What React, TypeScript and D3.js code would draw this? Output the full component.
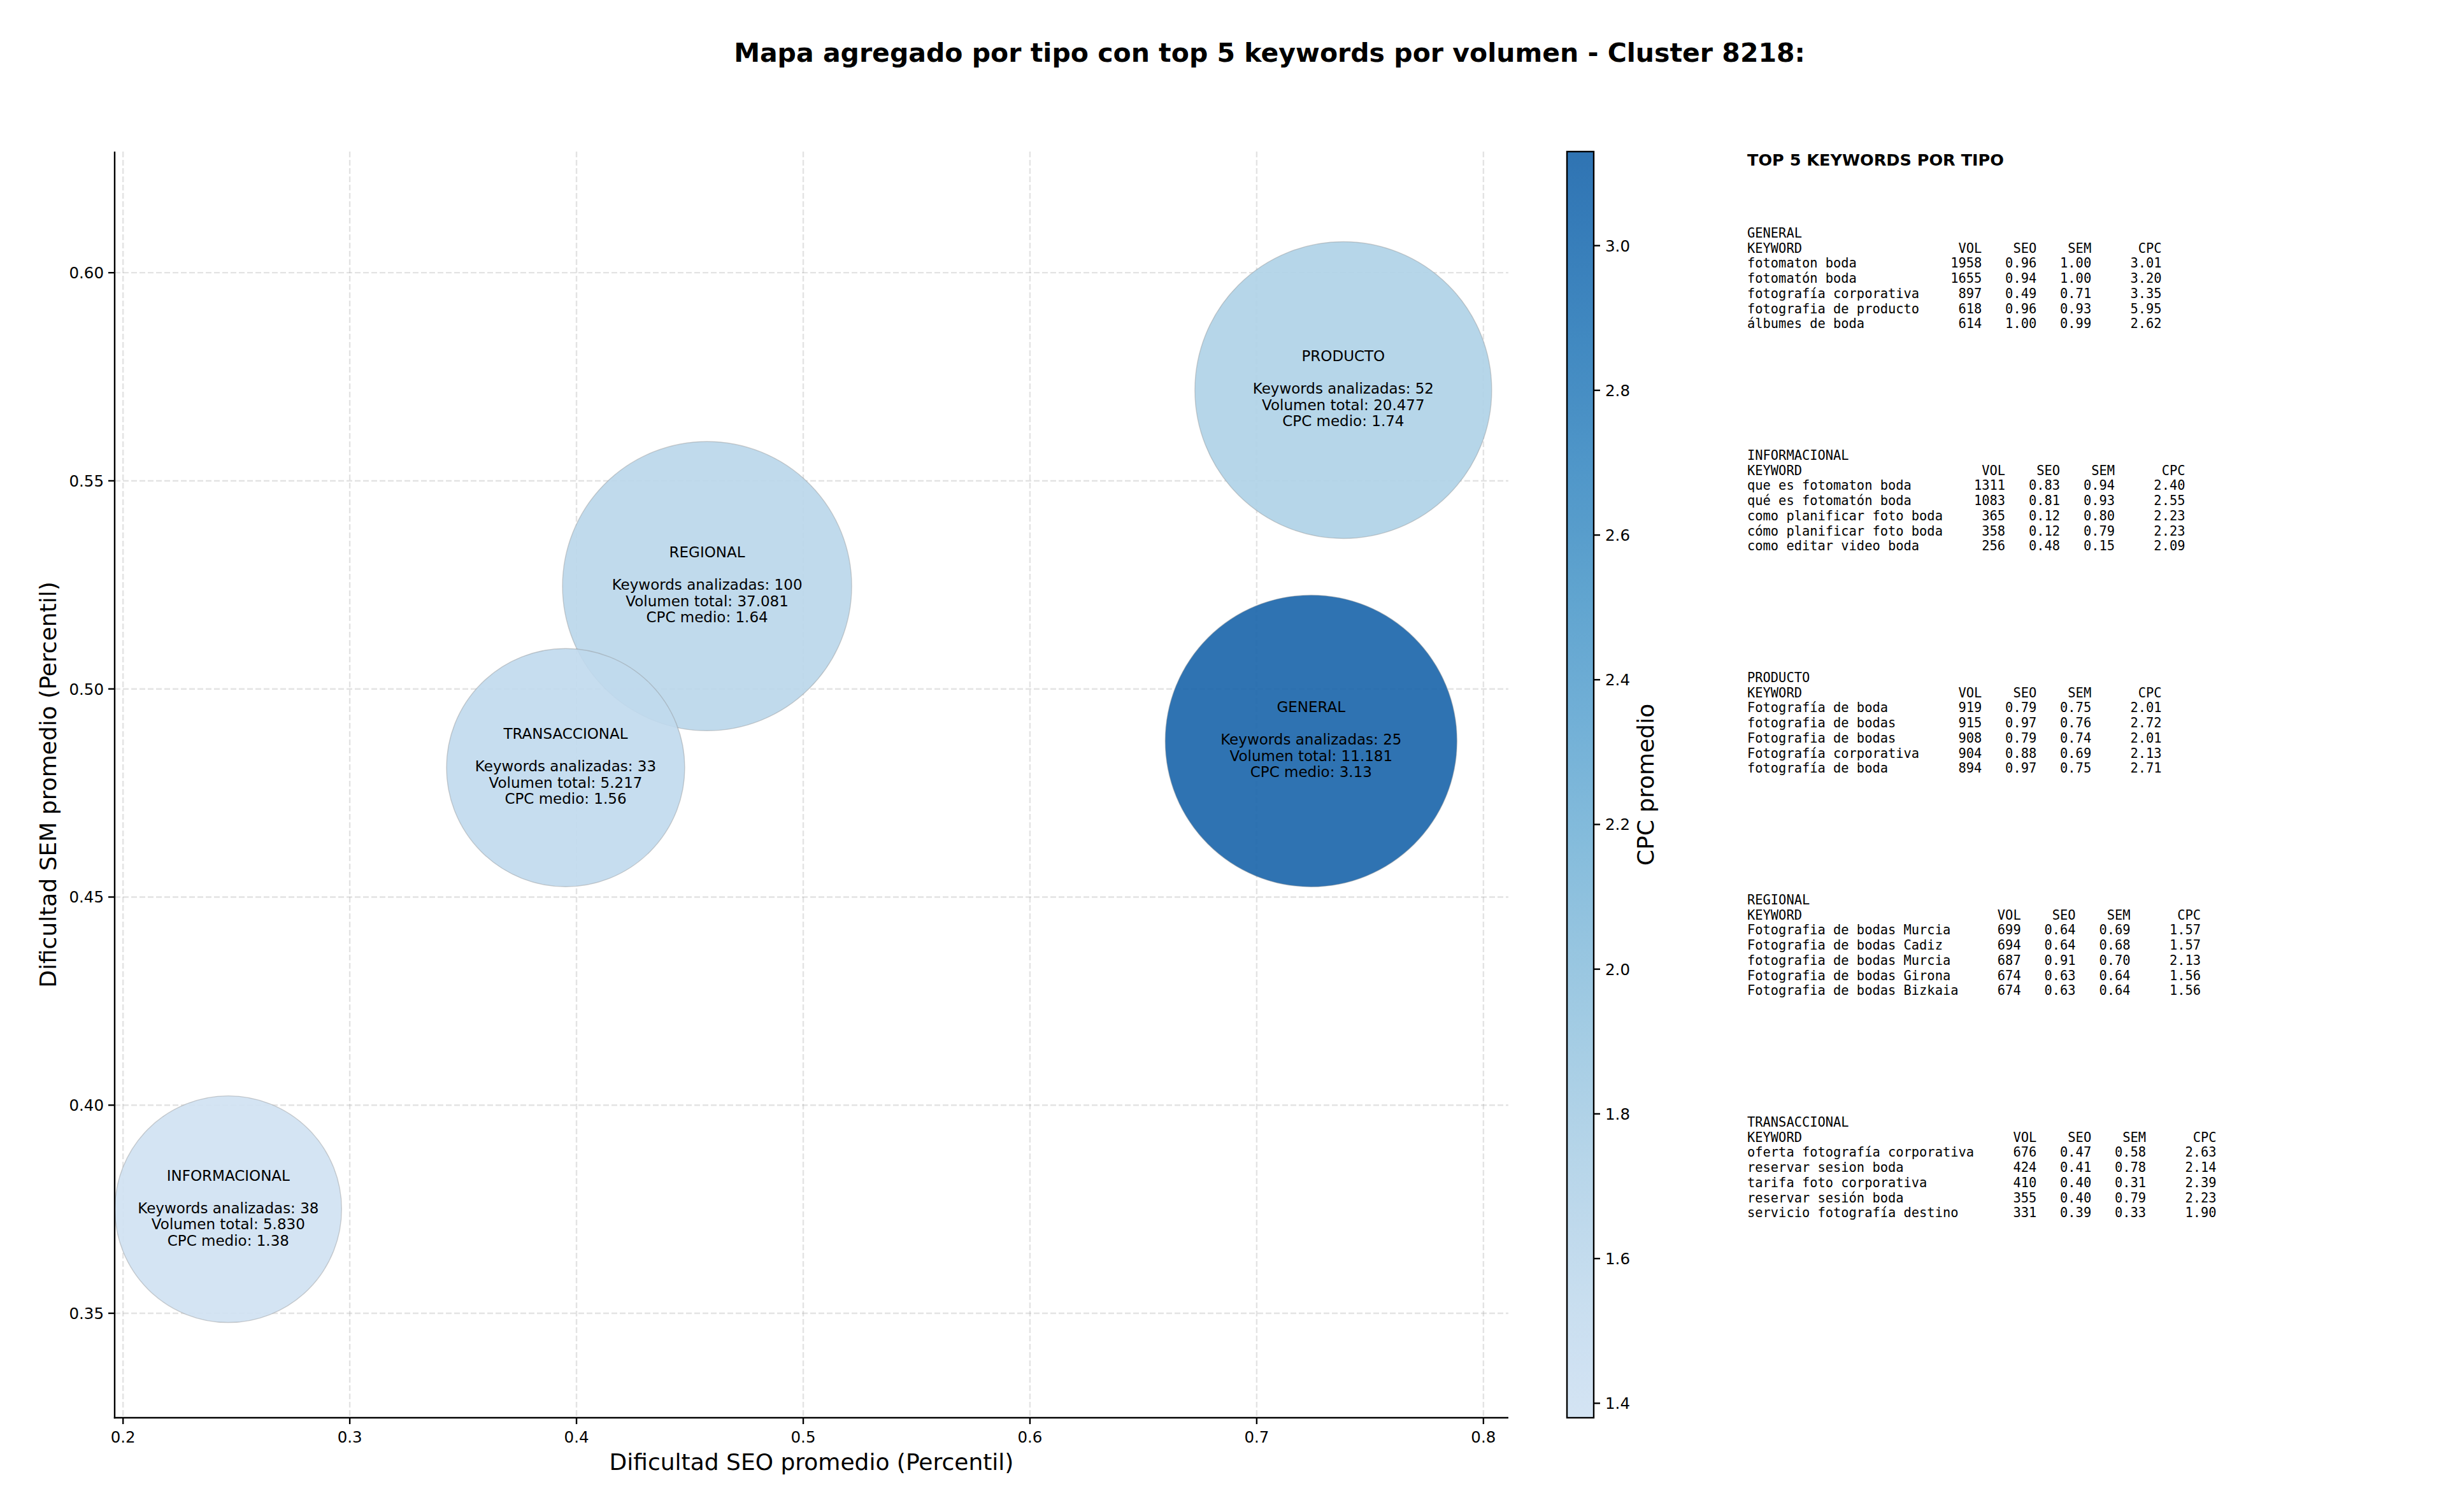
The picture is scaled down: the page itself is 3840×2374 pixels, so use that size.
import * as d3 from 'd3';

const W = 3840;
const H = 2374;

// Agregado por tipo (orden de dibujo)
const tipos = ['GENERAL', 'INFORMACIONAL', 'PRODUCTO', 'REGIONAL', 'TRANSACCIONAL'];
const seoMedio = [0.724, 0.2464, 0.7382, 0.4576, 0.3952];
const semMedio = [0.4875, 0.375, 0.5718, 0.5247, 0.4811];
const cpcMedio = [3.13, 1.38, 1.74, 1.64, 1.56];
const keywordsAnalizadas = [25, 38, 52, 100, 33];
const volumenTotal = [11181, 5830, 20477, 37081, 5217];
// tamaño relativo (área) de cada burbuja
const tamanoBurbuja = [5244, 3168, 5429, 5153, 3497];

const xTicks = [0.2, 0.3, 0.4, 0.5, 0.6, 0.7, 0.8];
const yTicks = [0.35, 0.4, 0.45, 0.5, 0.55, 0.6];
const cbTicks = [1.4, 1.6, 1.8, 2.0, 2.2, 2.4, 2.6, 2.8, 3.0];

type Row = [string, number, number, number, number];

const topGeneral: Row[] = [
  ['fotomaton boda', 1958, 0.96, 1.0, 3.01],
  ['fotomatón boda', 1655, 0.94, 1.0, 3.2],
  ['fotografía corporativa', 897, 0.49, 0.71, 3.35],
  ['fotografia de producto', 618, 0.96, 0.93, 5.95],
  ['álbumes de boda', 614, 1.0, 0.99, 2.62],
];
const topInformacional: Row[] = [
  ['que es fotomaton boda', 1311, 0.83, 0.94, 2.4],
  ['qué es fotomatón boda', 1083, 0.81, 0.93, 2.55],
  ['como planificar foto boda', 365, 0.12, 0.8, 2.23],
  ['cómo planificar foto boda', 358, 0.12, 0.79, 2.23],
  ['como editar video boda', 256, 0.48, 0.15, 2.09],
];
const topProducto: Row[] = [
  ['Fotografía de boda', 919, 0.79, 0.75, 2.01],
  ['fotografia de bodas', 915, 0.97, 0.76, 2.72],
  ['Fotografia de bodas', 908, 0.79, 0.74, 2.01],
  ['Fotografía corporativa', 904, 0.88, 0.69, 2.13],
  ['fotografía de boda', 894, 0.97, 0.75, 2.71],
];
const topRegional: Row[] = [
  ['Fotografia de bodas Murcia', 699, 0.64, 0.69, 1.57],
  ['Fotografia de bodas Cadiz', 694, 0.64, 0.68, 1.57],
  ['fotografia de bodas Murcia', 687, 0.91, 0.7, 2.13],
  ['Fotografia de bodas Girona', 674, 0.63, 0.64, 1.56],
  ['Fotografia de bodas Bizkaia', 674, 0.63, 0.64, 1.56],
];
const topTransaccional: Row[] = [
  ['oferta fotografía corporativa', 676, 0.47, 0.58, 2.63],
  ['reservar sesion boda', 424, 0.41, 0.78, 2.14],
  ['tarifa foto corporativa', 410, 0.4, 0.31, 2.39],
  ['reservar sesión boda', 355, 0.4, 0.79, 2.23],
  ['servicio fotografía destino', 331, 0.39, 0.33, 1.9],
];
const bloquesTop: [string, Row[]][] = [
  ['GENERAL', topGeneral],
  ['INFORMACIONAL', topInformacional],
  ['PRODUCTO', topProducto],
  ['REGIONAL', topRegional],
  ['TRANSACCIONAL', topTransaccional],
];

const SANS = '"DejaVu Sans", sans-serif';
const MONO = '"DejaVu Sans Mono", monospace';

const esLocale = d3.formatLocale({ decimal: ',', thousands: '.', grouping: [3], currency: ['', ''] });
const fmtVol = esLocale.format(',d');

function blockLines(rows: Row[]): string[] {
  const w = d3.max(rows, (r) => r[0].length)! + 2;
  const head =
    'KEYWORD'.padEnd(w) + 'VOL'.padStart(6) + 'SEO'.padStart(7) + 'SEM'.padStart(7) + 'CPC'.padStart(9);
  const body = rows.map(
    ([kw, vol, seo, sem, cpc]) =>
      kw.padEnd(w) +
      String(vol).padStart(6) +
      seo.toFixed(2).padStart(7) +
      sem.toFixed(2).padStart(7) +
      cpc.toFixed(2).padStart(9)
  );
  return [head, ...body];
}

export default function App() {
  const plot = { left: 180, right: 2368, top: 238, bottom: 2226 };
  const x = d3.scaleLinear().domain([0.1963, 0.811]).range([plot.left, plot.right]);
  const y = d3.scaleLinear().domain([0.3249, 0.6291]).range([plot.bottom, plot.top]);
  const r = d3.scaleSqrt().domain([0, d3.max(tamanoBurbuja)!]).range([0, 233]);

  const cpcMin = d3.min(cpcMedio)!;
  const cpcMax = d3.max(cpcMedio)!;
  const color = d3
    .scaleSequential((t: number) => d3.interpolateBlues(0.2 + 0.6 * t))
    .domain([cpcMin, cpcMax]);

  const cb = { left: 2460, right: 2502, top: plot.top, bottom: plot.bottom };
  const yc = d3.scaleLinear().domain([cpcMin, cpcMax]).range([cb.bottom, cb.top]);
  const gradStops = d3.range(0, 1.0001, 0.05);

  const grid = { stroke: '#b0b0b0', strokeOpacity: 0.35, strokeWidth: 2.4, strokeDasharray: '9,4' };
  const ALPHA = 0.9;
  const lh = 25.5;

  const panelX = 2743;
  const panelLH = 23.7;

  return (
    <svg
      width={W}
      height={H}
      viewBox={`0 0 ${W} ${H}`}
      style={{ position: 'absolute', left: 0, top: 0, background: '#fff' }}
    >
      <rect width={W} height={H} fill="#fff" />
      <defs>
        <linearGradient id="cbgrad" x1="0" y1="1" x2="0" y2="0">
          {gradStops.map((t) => (
            <stop
              key={t}
              offset={t}
              stopColor={color(cpcMin + t * (cpcMax - cpcMin))}
              stopOpacity={ALPHA}
            />
          ))}
        </linearGradient>
        <clipPath id="plotclip">
          <rect x={plot.left} y={plot.top} width={plot.right - plot.left} height={plot.bottom - plot.top} />
        </clipPath>
      </defs>

      {/* título */}
      <text x={1993} y={97} textAnchor="middle" fontFamily={SANS} fontWeight="bold" fontSize={41}>
        Mapa agregado por tipo con top 5 keywords por volumen - Cluster 8218:
      </text>

      {/* rejilla */}
      <g>
        {xTicks.map((t) => (
          <line key={'gx' + t} x1={x(t)} x2={x(t)} y1={plot.top} y2={plot.bottom} {...grid} />
        ))}
        {yTicks.map((t) => (
          <line key={'gy' + t} x1={plot.left} x2={plot.right} y1={y(t)} y2={y(t)} {...grid} />
        ))}
      </g>

      {/* burbujas */}
      <g clipPath="url(#plotclip)">
        {tipos.map((tp, i) => (
          <circle
            key={tp}
            cx={x(seoMedio[i])}
            cy={y(semMedio[i])}
            r={r(tamanoBurbuja[i])}
            fill={color(cpcMedio[i])}
            fillOpacity={ALPHA}
            stroke="#8c8c8c"
            strokeOpacity={0.4}
            strokeWidth={1.4}
          />
        ))}
      </g>

      {/* etiquetas de burbuja */}
      <g fontFamily={SANS} fontSize={23} textAnchor="middle" fill="#000">
        {tipos.map((tp, i) => {
          const cx = x(seoMedio[i]);
          const cy = y(semMedio[i]) + 6;
          const lines = [
            tp,
            '',
            `Keywords analizadas: ${keywordsAnalizadas[i]}`,
            `Volumen total: ${fmtVol(volumenTotal[i])}`,
            `CPC medio: ${cpcMedio[i].toFixed(2)}`,
          ];
          return (
            <g key={'lbl' + tp}>
              {lines.map((l, k) =>
                l ? (
                  <text key={k} x={cx} y={cy + (k - 2) * lh}>
                    {l}
                  </text>
                ) : null
              )}
            </g>
          );
        })}
      </g>

      {/* ejes */}
      <g stroke="#000" strokeWidth={2.4}>
        <line x1={plot.left} x2={plot.left} y1={plot.top} y2={plot.bottom + 1.2} />
        <line x1={plot.left - 1.2} x2={plot.right} y1={plot.bottom} y2={plot.bottom} />
        {xTicks.map((t) => (
          <line key={'tx' + t} x1={x(t)} x2={x(t)} y1={plot.bottom} y2={plot.bottom + 10} />
        ))}
        {yTicks.map((t) => (
          <line key={'ty' + t} x1={plot.left} x2={plot.left - 10} y1={y(t)} y2={y(t)} />
        ))}
      </g>
      <g fontFamily={SANS} fontSize={24.5} fill="#000">
        {xTicks.map((t) => (
          <text key={'lx' + t} x={x(t)} y={plot.bottom + 39} textAnchor="middle">
            {t.toFixed(1)}
          </text>
        ))}
        {yTicks.map((t) => (
          <text key={'ly' + t} x={plot.left - 17} y={y(t) + 9} textAnchor="end">
            {t.toFixed(2)}
          </text>
        ))}
      </g>
      <text
        x={(plot.left + plot.right) / 2}
        y={2308}
        textAnchor="middle"
        fontFamily={SANS}
        fontSize={36}
      >
        Dificultad SEO promedio (Percentil)
      </text>
      <text
        transform={`translate(88,${(plot.top + plot.bottom) / 2}) rotate(-90)`}
        textAnchor="middle"
        fontFamily={SANS}
        fontSize={36}
      >
        Dificultad SEM promedio (Percentil)
      </text>

      {/* barra de color */}
      <rect
        x={cb.left}
        y={cb.top}
        width={cb.right - cb.left}
        height={cb.bottom - cb.top}
        fill="url(#cbgrad)"
        stroke="#000"
        strokeWidth={2.4}
      />
      <g stroke="#000" strokeWidth={2.4}>
        {cbTicks.map((t) => (
          <line key={'cbt' + t} x1={cb.right} x2={cb.right + 10} y1={yc(t)} y2={yc(t)} />
        ))}
      </g>
      <g fontFamily={SANS} fontSize={24.5} fill="#000">
        {cbTicks.map((t) => (
          <text key={'cbl' + t} x={cb.right + 18} y={yc(t) + 9}>
            {t.toFixed(1)}
          </text>
        ))}
      </g>
      <text
        transform={`translate(2596,${(cb.top + cb.bottom) / 2}) rotate(-90)`}
        textAnchor="middle"
        fontFamily={SANS}
        fontSize={36}
      >
        CPC promedio
      </text>

      {/* panel top keywords */}
      <text x={panelX} y={260} fontFamily={SANS} fontWeight="bold" fontSize={25.5}>
        TOP 5 KEYWORDS POR TIPO
      </text>
      <g fontFamily={MONO} fontSize={20.4} fill="#000">
        {bloquesTop.map(([name, rows], b) => {
          const y0 = 373 + b * 349;
          const lines = [name, ...blockLines(rows)];
          return (
            <g key={'blk' + name}>
              {lines.map((l, k) => (
                <text key={k} x={panelX} y={y0 + k * panelLH} style={{ whiteSpace: 'pre' }}>
                  {l}
                </text>
              ))}
            </g>
          );
        })}
      </g>
    </svg>
  );
}
